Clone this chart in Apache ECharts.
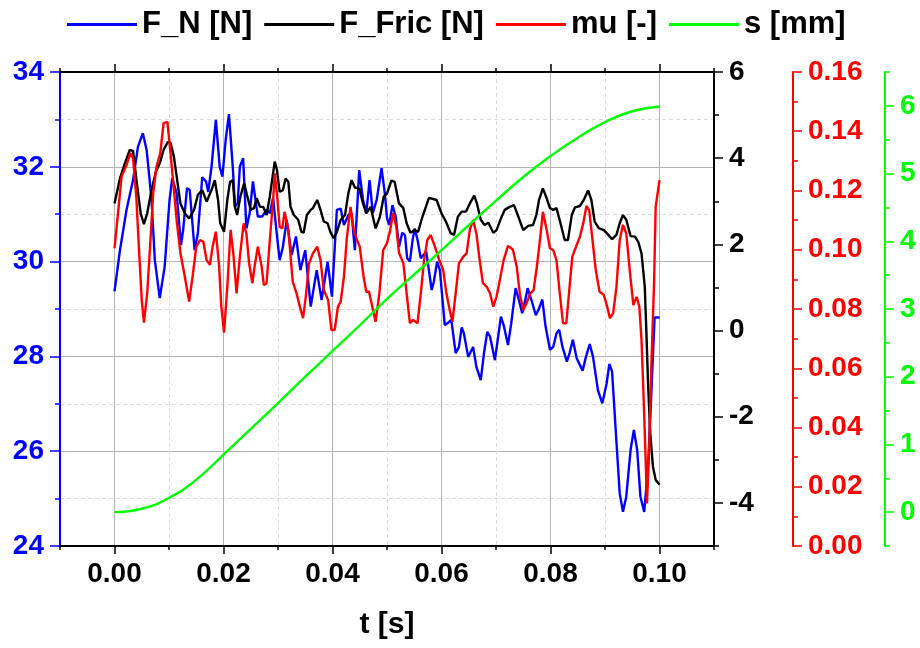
<!DOCTYPE html>
<html>
<head>
<meta charset="utf-8">
<script src="https://cdn.jsdelivr.net/npm/echarts@6/dist/echarts.min.js"></script>
<style>html,body{margin:0;padding:0;background:#fff}#c{width:920px;height:648px}</style>
</head>
<body>
<div id="c"></div>
<script>
// ---- data ----
var fnT = [0.0000,0.0010,0.0022,0.0034,0.0043,0.0052,0.0059,0.0068,0.0074,0.0083,0.0092,0.0101,0.0106,0.0114,0.0122,0.0126,0.0133,0.0138,0.0147,0.0153,0.0161,0.0168,0.0172,0.0178,0.0186,0.0193,0.0198,0.0204,0.0210,0.0217,0.0221,0.0226,0.0230,0.0236,0.0242,0.0248,0.0254,0.0263,0.0271,0.0279,0.0285,0.0291,0.0297,0.0303,0.0309,0.0316,0.0325,0.0333,0.0341,0.0350,0.0360,0.0371,0.0380,0.0391,0.0399,0.0408,0.0415,0.0421,0.0429,0.0435,0.0441,0.0449,0.0456,0.0462,0.0468,0.0474,0.0481,0.0490,0.0496,0.0500,0.0504,0.0510,0.0516,0.0522,0.0528,0.0533,0.0537,0.0542,0.0547,0.0551,0.0556,0.0562,0.0572,0.0582,0.0586,0.0592,0.0597,0.0606,0.0612,0.0618,0.0626,0.0632,0.0637,0.0641,0.0649,0.0658,0.0664,0.0672,0.0678,0.0684,0.0689,0.0698,0.0704,0.0709,0.0714,0.0722,0.0728,0.0736,0.0742,0.0748,0.0753,0.0758,0.0765,0.0773,0.0779,0.0785,0.0791,0.0799,0.0805,0.0811,0.0816,0.0822,0.0830,0.0835,0.0841,0.0848,0.0859,0.0865,0.0872,0.0878,0.0887,0.0895,0.0903,0.0908,0.0913,0.0920,0.0927,0.0933,0.0939,0.0947,0.0953,0.0959,0.0965,0.0972,0.0979,0.0985,0.0991,0.1000];
var fnV = [29.37,30.24,31.09,31.72,32.42,32.71,32.35,31.30,30.03,29.23,29.89,31.30,31.76,31.44,30.35,30.67,31.55,31.51,30.24,30.60,31.78,31.69,31.47,32.00,32.99,32.00,31.79,32.57,33.11,32.00,31.16,31.23,32.00,32.18,30.70,31.02,31.69,30.95,30.95,31.09,31.02,31.34,30.67,30.03,30.31,30.88,30.14,30.53,29.82,30.24,29.05,29.82,29.19,30.00,29.26,31.09,31.12,30.77,30.98,31.02,30.24,31.93,31.30,31.02,31.72,31.02,31.30,31.97,31.44,30.92,30.77,31.19,30.95,30.31,30.61,30.56,30.07,30.00,30.46,30.70,30.46,30.07,30.21,29.40,29.58,30.00,29.82,28.66,28.71,28.77,28.07,28.20,28.61,28.49,27.99,28.20,27.78,27.50,28.07,28.52,28.42,27.92,28.42,28.84,28.66,28.24,28.70,29.44,29.19,28.91,29.15,29.44,29.19,28.87,29.01,29.20,28.63,28.14,28.20,28.49,28.56,28.20,27.89,28.07,28.35,27.96,27.70,27.99,28.26,27.99,27.29,27.01,27.43,27.84,27.68,26.38,25.11,24.72,25.04,26.03,26.45,26.03,25.04,24.72,25.67,27.22,28.82,28.82];

var ffT = [0.0000,0.0010,0.0019,0.0028,0.0034,0.0041,0.0048,0.0054,0.0060,0.0068,0.0076,0.0083,0.0090,0.0098,0.0103,0.0109,0.0115,0.0121,0.0129,0.0137,0.0146,0.0153,0.0161,0.0169,0.0178,0.0184,0.0190,0.0194,0.0201,0.0207,0.0212,0.0217,0.0221,0.0225,0.0231,0.0238,0.0243,0.0250,0.0256,0.0261,0.0267,0.0273,0.0279,0.0285,0.0291,0.0294,0.0298,0.0303,0.0309,0.0314,0.0319,0.0323,0.0329,0.0337,0.0343,0.0347,0.0353,0.0360,0.0364,0.0372,0.0378,0.0384,0.0391,0.0396,0.0402,0.0408,0.0415,0.0423,0.0429,0.0435,0.0441,0.0449,0.0456,0.0462,0.0470,0.0479,0.0487,0.0494,0.0500,0.0508,0.0514,0.0522,0.0530,0.0536,0.0543,0.0550,0.0557,0.0565,0.0577,0.0591,0.0600,0.0608,0.0617,0.0623,0.0630,0.0637,0.0645,0.0652,0.0660,0.0665,0.0672,0.0679,0.0686,0.0695,0.0701,0.0708,0.0716,0.0725,0.0733,0.0741,0.0750,0.0759,0.0768,0.0774,0.0779,0.0786,0.0793,0.0799,0.0805,0.0811,0.0820,0.0826,0.0832,0.0839,0.0845,0.0854,0.0861,0.0869,0.0875,0.0881,0.0889,0.0898,0.0906,0.0913,0.0921,0.0927,0.0933,0.0939,0.0947,0.0955,0.0961,0.0967,0.0973,0.0976,0.0979,0.0983,0.0988,0.0993,0.1000];
var ffV = [2.95,3.53,3.88,4.19,4.17,3.42,2.72,2.47,2.72,3.26,3.69,3.88,4.19,4.38,4.35,4.03,3.49,2.95,2.72,2.60,2.80,3.15,3.26,2.99,3.26,3.49,3.03,2.49,2.29,3.03,3.45,3.49,2.87,2.68,3.11,3.42,3.15,2.80,2.84,3.07,2.87,2.87,2.68,3.11,3.65,3.92,3.73,3.22,3.26,3.53,3.45,2.87,2.68,2.57,2.29,2.27,2.68,2.80,2.84,3.03,2.80,2.53,2.49,2.29,2.14,2.29,2.57,2.68,3.18,3.49,3.32,3.30,2.95,2.72,2.87,2.37,2.64,3.11,3.18,3.48,3.45,2.95,2.84,2.49,2.27,2.33,2.29,2.64,3.08,3.03,2.72,2.53,2.26,2.22,2.64,2.76,2.76,2.95,3.13,2.95,2.57,2.45,2.50,2.27,2.33,2.57,2.80,2.87,2.91,2.64,2.33,2.43,2.45,2.68,3.03,3.30,3.07,2.84,2.80,2.84,2.41,2.10,2.10,2.68,2.86,2.89,3.03,3.25,3.03,2.53,2.37,2.33,2.22,2.12,2.22,2.49,2.68,2.57,2.19,2.18,2.06,1.79,1.02,-0.06,-1.22,-2.38,-3.16,-3.47,-3.58];

var muT = [0.0000,0.0007,0.0013,0.0022,0.0029,0.0034,0.0040,0.0045,0.0050,0.0054,0.0060,0.0066,0.0071,0.0077,0.0084,0.0090,0.0097,0.0101,0.0108,0.0114,0.0121,0.0129,0.0137,0.0144,0.0150,0.0157,0.0163,0.0169,0.0175,0.0180,0.0186,0.0192,0.0196,0.0201,0.0207,0.0213,0.0218,0.0224,0.0230,0.0237,0.0242,0.0247,0.0253,0.0257,0.0263,0.0270,0.0274,0.0279,0.0285,0.0291,0.0294,0.0298,0.0303,0.0308,0.0312,0.0319,0.0327,0.0334,0.0340,0.0346,0.0351,0.0357,0.0364,0.0372,0.0378,0.0384,0.0392,0.0398,0.0404,0.0410,0.0415,0.0421,0.0426,0.0433,0.0439,0.0445,0.0450,0.0457,0.0462,0.0467,0.0473,0.0479,0.0486,0.0493,0.0500,0.0506,0.0511,0.0517,0.0522,0.0530,0.0536,0.0542,0.0548,0.0556,0.0562,0.0568,0.0574,0.0580,0.0588,0.0596,0.0603,0.0609,0.0615,0.0620,0.0626,0.0632,0.0640,0.0646,0.0652,0.0658,0.0664,0.0670,0.0676,0.0683,0.0689,0.0695,0.0701,0.0707,0.0714,0.0722,0.0731,0.0738,0.0744,0.0750,0.0756,0.0763,0.0769,0.0775,0.0782,0.0786,0.0793,0.0799,0.0805,0.0811,0.0817,0.0823,0.0829,0.0835,0.0840,0.0848,0.0854,0.0860,0.0866,0.0871,0.0877,0.0883,0.0890,0.0898,0.0904,0.0909,0.0915,0.0921,0.0927,0.0933,0.0939,0.0946,0.0952,0.0958,0.0963,0.0967,0.0971,0.0975,0.0977,0.0981,0.0985,0.0990,0.0993,0.1000];
var muV = [0.1005,0.1134,0.1247,0.1286,0.1326,0.1309,0.1179,0.0999,0.0830,0.0754,0.0853,0.1033,0.1191,0.1280,0.1326,0.1427,0.1432,0.1359,0.1224,0.1100,0.0988,0.0909,0.0825,0.0920,0.1010,0.1033,0.1027,0.0965,0.0949,0.1010,0.1061,0.0943,0.0808,0.0720,0.0875,0.1067,0.0988,0.0853,0.0977,0.1089,0.1055,0.0954,0.0887,0.0943,0.1010,0.0943,0.0881,0.0887,0.1033,0.1168,0.1258,0.1191,0.1078,0.1072,0.1128,0.1067,0.0892,0.0853,0.0808,0.0769,0.0842,0.0954,0.0988,0.1010,0.0965,0.0864,0.0830,0.0729,0.0729,0.0808,0.0825,0.0909,0.1033,0.1145,0.1067,0.1033,0.1010,0.0909,0.0858,0.0858,0.0808,0.0757,0.0853,0.0999,0.1022,0.1067,0.1123,0.1078,0.0990,0.0954,0.0853,0.0752,0.0763,0.0752,0.0853,0.0965,0.1033,0.1050,0.1010,0.0965,0.0932,0.0853,0.0797,0.0757,0.0853,0.0954,0.0977,0.0988,0.1067,0.1100,0.1055,0.0965,0.0887,0.0875,0.0853,0.0808,0.0842,0.0898,0.0965,0.1013,0.1001,0.0943,0.0847,0.0797,0.0819,0.0853,0.0864,0.0943,0.1055,0.1128,0.1067,0.1005,0.0999,0.0965,0.0853,0.0752,0.0752,0.0875,0.0977,0.1016,0.1044,0.1089,0.1148,0.1134,0.1033,0.0932,0.0858,0.0847,0.0808,0.0769,0.0786,0.0875,0.1033,0.1084,0.1055,0.0920,0.0813,0.0841,0.0808,0.0695,0.0493,0.0268,0.0144,0.0324,0.0605,0.0887,0.1145,0.1235];

var sT = [0.000,0.005,0.010,0.015,0.020,0.025,0.030,0.035,0.040,0.045,0.050,0.055,0.060,0.065,0.070,0.075,0.080,0.085,0.090,0.095,0.100];
var sV = [0.00,0.05,0.21,0.48,0.85,1.23,1.61,2.00,2.38,2.76,3.15,3.51,3.87,4.24,4.60,4.95,5.26,5.53,5.76,5.92,5.99];

// ---- tick values ----
var xMajor = [0, 0.02, 0.04, 0.06, 0.08, 0.10];
var xMinor = [-0.01, 0.01, 0.03, 0.05, 0.07, 0.09, 0.11];
var ffMajor = [-4, -2, 0, 2, 4, 6];
var ffMinor = [-5, -3, -1, 1, 3, 5];
var sMajor = [0, 1, 2, 3, 4, 5, 6];
var sMinor = [-0.5, 0.5, 1.5, 2.5, 3.5, 4.5, 5.5, 6.5];

function zip(a, b) { return a.map(function (v, i) { return [v, b[i]]; }); }

var FONT = "'Liberation Sans', Arial, sans-serif";
var BLUE = '#0000ff', RED = '#ff0000', GREEN = '#00ff00', BLACK = '#000000';
var LW = 2.4;
var majorGrid = { show: true, lineStyle: { color: '#b4b4b4', width: 1, type: 'solid' } };
var minorGrid = { show: true, lineStyle: { color: '#dcdcdc', width: 1, type: [4, 3] } };
function lbl(color, extra) {
  var o = { show: true, color: color, fontSize: 28, fontWeight: 'bold', fontFamily: FONT, margin: 15 };
  for (var k in extra) o[k] = extra[k];
  return o;
}

var chart = echarts.init(document.getElementById('c'), null, { renderer: 'canvas' });
chart.setOption({
  animation: false,
  backgroundColor: '#ffffff',
  legend: {
    top: 4, left: 62,
    icon: 'rect',
    itemWidth: 70, itemHeight: 3, itemGap: 12,
    textStyle: { fontSize: 31, fontWeight: 'bold', fontFamily: FONT, color: '#000' },
    data: ['F_N [N]', 'F_Fric [N]', 'mu [-]', 's [mm]']
  },
  grid: { left: 60, right: 206, top: 72, bottom: 102, containLabel: false, outerBoundsMode: 'none' },
  xAxis: [
    { type: 'value', position: 'bottom', min: -0.01, max: 0.11, interval: 0.01,
      axisLine: { onZero: false, lineStyle: { color: BLACK, width: 2 } },
      axisTick: { customValues: xMajor, length: 8, lineStyle: { color: BLACK, width: 1.5 } },
      axisLabel: lbl(BLACK, { customValues: xMajor, margin: 14, formatter: function (v) { return v.toFixed(2); } }),
      splitLine: majorGrid,
      name: 't [s]', nameLocation: 'middle', nameGap: 64,
      nameTextStyle: { fontSize: 30, fontWeight: 'bold', fontFamily: FONT, color: BLACK } },
    { type: 'value', position: 'bottom', min: -0.01, max: 0.11, interval: 0.01,
      axisLine: { show: false, onZero: false },
      axisTick: { customValues: xMinor, length: 4, lineStyle: { color: BLACK, width: 1.5 } },
      axisLabel: { show: false }, splitLine: minorGrid },
    { type: 'value', position: 'top', min: -0.01, max: 0.11, interval: 0.01,
      axisLine: { onZero: false, lineStyle: { color: BLACK, width: 2 } },
      axisTick: { customValues: xMajor, length: 8, lineStyle: { color: BLACK, width: 1.5 } },
      axisLabel: { show: false }, splitLine: { show: false } },
    { type: 'value', position: 'top', min: -0.01, max: 0.11, interval: 0.01,
      axisLine: { show: false, onZero: false },
      axisTick: { customValues: xMinor, length: 4, lineStyle: { color: BLACK, width: 1.5 } },
      axisLabel: { show: false }, splitLine: { show: false } }
  ],
  yAxis: [
    { type: 'value', position: 'left', min: 24, max: 34, interval: 2,
      axisLine: { show: true, onZero: false, lineStyle: { color: BLUE, width: 2 } },
      axisTick: { show: true, length: 10, lineStyle: { color: BLUE, width: 1.5 } },
      minorTick: { show: true, splitNumber: 2, length: 5, lineStyle: { color: BLUE, width: 1.5 } },
      axisLabel: lbl(BLUE, { margin: 16 }),
      splitLine: majorGrid, minorSplitLine: minorGrid },
    { type: 'value', position: 'right', offset: 0, min: -5, max: 6, interval: 1,
      axisLine: { show: true, onZero: false, lineStyle: { color: BLACK, width: 2 } },
      axisTick: { show: true, customValues: ffMajor, length: 9, lineStyle: { color: BLACK, width: 1.5 } },
      axisLabel: lbl(BLACK, { customValues: ffMajor, margin: 15 }),
      splitLine: { show: false } },
    { type: 'value', position: 'right', offset: 0, min: -5, max: 6, interval: 1,
      axisLine: { show: false, onZero: false },
      axisTick: { show: true, customValues: ffMinor, length: 5, lineStyle: { color: BLACK, width: 1.5 } },
      axisLabel: { show: false }, splitLine: { show: false } },
    { type: 'value', position: 'right', offset: 79, min: 0, max: 0.16, interval: 0.02,
      axisLine: { show: true, onZero: false, lineStyle: { color: RED, width: 2 } },
      axisTick: { show: true, length: 9, lineStyle: { color: RED, width: 1.5 } },
      minorTick: { show: true, splitNumber: 2, length: 5, lineStyle: { color: RED, width: 1.5 } },
      axisLabel: lbl(RED, { margin: 15, formatter: function (v) { return v.toFixed(2); } }),
      splitLine: { show: false } },
    { type: 'value', position: 'right', offset: 171, min: -0.5, max: 6.5, interval: 0.5,
      axisLine: { show: true, onZero: false, lineStyle: { color: GREEN, width: 2 } },
      axisTick: { show: true, customValues: sMajor, length: 9, lineStyle: { color: GREEN, width: 1.5 } },
      axisLabel: lbl(GREEN, { customValues: sMajor, margin: 15 }),
      splitLine: { show: false } },
    { type: 'value', position: 'right', offset: 171, min: -0.5, max: 6.5, interval: 0.5,
      axisLine: { show: false, onZero: false },
      axisTick: { show: true, customValues: sMinor, length: 5, lineStyle: { color: GREEN, width: 1.5 } },
      axisLabel: { show: false }, splitLine: { show: false } }
  ],
  series: [
    { name: 'F_N [N]', type: 'line', xAxisIndex: 0, yAxisIndex: 0, data: zip(fnT, fnV),
      symbol: 'none', showSymbol: false, color: BLUE, lineStyle: { color: BLUE, width: LW } },
    { name: 'F_Fric [N]', type: 'line', xAxisIndex: 0, yAxisIndex: 1, data: zip(ffT, ffV),
      symbol: 'none', showSymbol: false, color: BLACK, lineStyle: { color: BLACK, width: LW } },
    { name: 'mu [-]', type: 'line', xAxisIndex: 0, yAxisIndex: 3, data: zip(muT, muV),
      symbol: 'none', showSymbol: false, color: RED, lineStyle: { color: RED, width: LW } },
    { name: 's [mm]', type: 'line', xAxisIndex: 0, yAxisIndex: 4, data: zip(sT, sV),
      smooth: 0.5,
      symbol: 'none', showSymbol: false, color: GREEN, lineStyle: { color: GREEN, width: LW } }
  ]
});
</script>
</body>
</html>
